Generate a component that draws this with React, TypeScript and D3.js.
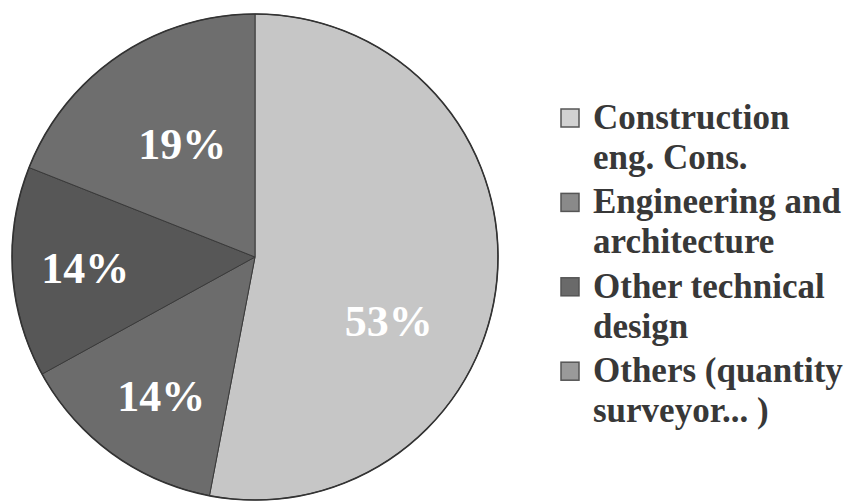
import React from "react";
import * as d3 from "d3";

const categories = [
  ["Construction", "eng. Cons."],
  ["Engineering and", "architecture"],
  ["Other technical", "design"],
  ["Others (quantity", "surveyor... )"],
];
const values = [53, 14, 14, 19];
const labels = ["53%", "14%", "14%", "19%"];
const colors = ["#c6c6c6", "#6c6c6c", "#575757", "#6e6e6e"];
const legendColors = ["#d2d2d2", "#8a8a8a", "#6a6a6a", "#9a9a9a"];

const W = 851;
const H = 501;
const CX = 255;
const CY = 257;
const R = 243;
// label placement (radius fraction, angle shift in radians) per slice
const labelRadiusFrac = [0.61, 0.69, 0.7, 0.555];
const labelAngleShift = [0.35, -0.035, 0, 0.028];

export default function App() {
  const pie = d3.pie<number>().sort(null).value((d) => d)(values);
  const arc = d3.arc<d3.PieArcDatum<number>>().innerRadius(0).outerRadius(R);
  const font = "'Liberation Serif', 'Times New Roman', serif";
  const legendX = 561;
  const legendTextX = 593;
  const firstBaseline = 129;
  const itemGap = 84.4;
  const lineGap = 40;

  return (
    <svg width={W} height={H} style={{ position: "absolute", left: 0, top: 0 }}>
      <rect width={W} height={H} fill="#ffffff" />
      <g transform={`translate(${CX},${CY})`}>
        {pie.map((p, i) => (
          <path key={i} d={arc(p) || ""} fill={colors[i]} stroke="#3a3a3a" strokeWidth={1} />
        ))}
        <circle r={R} fill="none" stroke="#333" strokeWidth={1.6} />
        {pie.map((p, i) => {
          const a = (p.startAngle + p.endAngle) / 2 + labelAngleShift[i];
          const r = R * labelRadiusFrac[i];
          const x = Math.sin(a) * r;
          const y = -Math.cos(a) * r;
          return (
            <text
              key={i}
              x={x}
              y={y}
              dy="0.35em"
              textAnchor="middle"
              fill="#ffffff"
              fontFamily={font}
              fontWeight="bold"
              fontSize={44}
            >
              {labels[i]}
            </text>
          );
        })}
      </g>
      {categories.map((lines, i) => {
        const base = firstBaseline + i * itemGap;
        return (
          <g key={i}>
            <rect
              x={legendX}
              y={base - 20}
              width={18}
              height={18}
              fill={legendColors[i]}
              stroke="#555"
              strokeWidth={1.5}
            />
            {lines.map((t, j) => (
              <text
                key={j}
                x={legendTextX}
                y={base + j * lineGap}
                fill="#383838"
                fontFamily={font}
                fontWeight="bold"
                fontSize={35}
              >
                {t}
              </text>
            ))}
          </g>
        );
      })}
    </svg>
  );
}
